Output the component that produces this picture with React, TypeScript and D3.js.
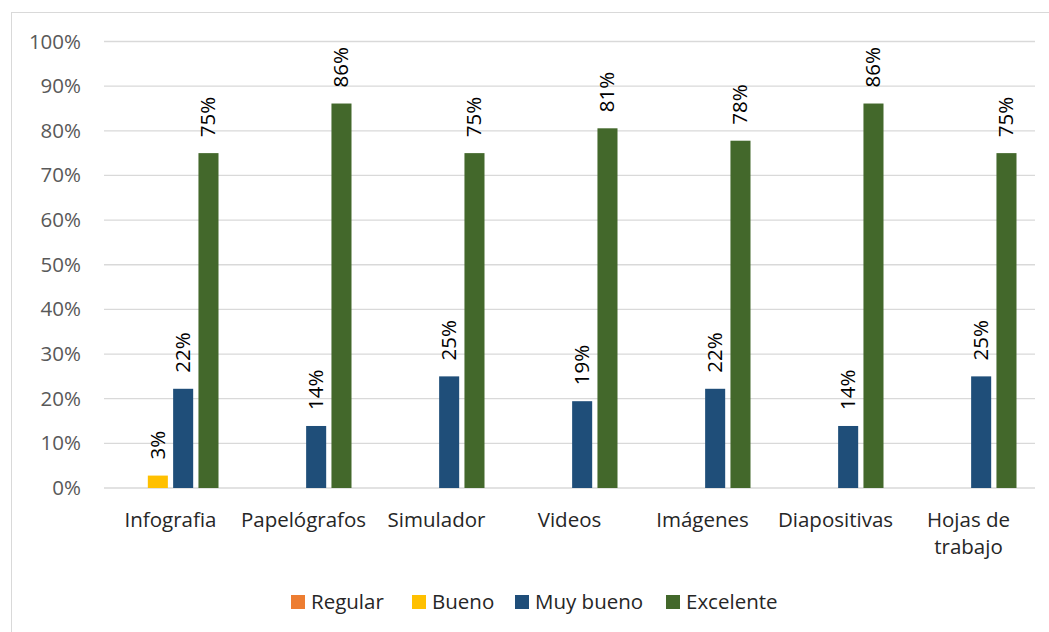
import React from "react";
import * as d3 from "d3";

const categories = ["Infografia", "Papelógrafos", "Simulador", "Videos", "Imágenes", "Diapositivas", "Hojas de trabajo"];
const seriesNames = ["Regular", "Bueno", "Muy bueno", "Excelente"];
const seriesColors = ["#ED7D31", "#FFC000", "#1F4E79", "#43682B"];
const regular = [0, 0, 0, 0, 0, 0, 0];
const bueno = [0.0278, 0, 0, 0, 0, 0, 0];
const muyBueno = [0.2222, 0.1389, 0.25, 0.1944, 0.2222, 0.1389, 0.25];
const excelente = [0.75, 0.8611, 0.75, 0.8056, 0.7778, 0.8611, 0.75];
const yTicks = [0, 0.1, 0.2, 0.3, 0.4, 0.5, 0.6, 0.7, 0.8, 0.9, 1.0];

const series = [regular, bueno, muyBueno, excelente];
const FONT = "'Open Sans', sans-serif";
const FS = 20.5;

export default function App() {
  const W = 1049, H = 632;
  const left = 104, right = 1035, top = 41.5, bottom = 488;
  const x = d3.scaleBand<string>().domain(categories).range([left, right]).padding(0);
  const inner = d3.scaleBand<string>().domain(seriesNames).range([0, 96]).paddingInner(5 / 24).paddingOuter(0);
  const y = d3.scaleLinear().domain([0, 1]).range([bottom, top]);
  const groupW = 96 - 5;
  const fmt = d3.format(".0%");

  const legendX = [291, 412, 515, 666];

  return (
    <svg width={W} height={H} style={{ position: "absolute", left: 0, top: 0, background: "#fff" }}>
      <rect x={11.5} y={12.5} width={1040} height={630} fill="#fff" stroke="#d9d9d9" strokeWidth={1} />
      {yTicks.map((t) => (
        <g key={t}>
          <line x1={left} x2={right} y1={y(t)} y2={y(t)} stroke="#d9d9d9" strokeWidth={1.3} />
          <text x={81} y={y(t) + 7} textAnchor="end" fontFamily={FONT} fontSize={FS} fill="#595959">{fmt(t)}</text>
        </g>
      ))}
      {categories.map((c, ci) => {
        const gx = x(c)! + x.bandwidth() / 2 - groupW / 2 - 2.5;
        return (
          <g key={c}>
            {series.map((s, si) => {
              const v = s[ci];
              if (!v) return null;
              const bx = gx + inner(seriesNames[si])!;
              const bw = inner.bandwidth();
              return (
                <g key={si}>
                  <rect x={bx} y={y(v)} width={bw} height={bottom - y(v)} fill={seriesColors[si]} />
                  <text
                    transform={`translate(${bx + bw / 2 + 7},${y(v) - 16}) rotate(-90)`}
                    fontFamily={FONT}
                    fontSize={FS}
                    fill="#000"
                  >
                    {fmt(v)}
                  </text>
                </g>
              );
            })}
          </g>
        );
      })}
      {categories.map((c) => {
        const cx = x(c)! + x.bandwidth() / 2;
        const lines = c === "Hojas de trabajo" ? ["Hojas de", "trabajo"] : [c];
        return (
          <text key={c} x={cx} y={527} textAnchor="middle" fontFamily={FONT} fontSize={FS} fill="#262626">
            {lines.map((l, i) => (
              <tspan key={i} x={cx} dy={i === 0 ? 0 : 27}>{l}</tspan>
            ))}
          </text>
        );
      })}
      {seriesNames.map((n, i) => (
        <g key={n}>
          <rect x={legendX[i]} y={595} width={14} height={14} fill={seriesColors[i]} />
          <text x={legendX[i] + 20} y={609} fontFamily={FONT} fontSize={FS} fill="#262626">{n}</text>
        </g>
      ))}
    </svg>
  );
}
